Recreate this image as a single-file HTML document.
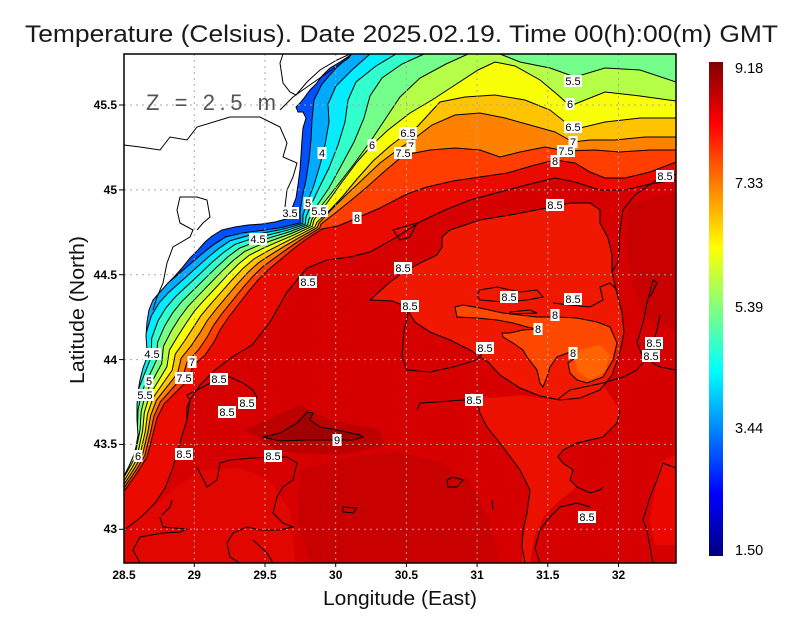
<!DOCTYPE html>
<html><head><meta charset="utf-8">
<style>
html,body{margin:0;padding:0;background:#fff;}
svg{display:block;}
text{font-family:"Liberation Sans",Arial,sans-serif;}
.lb rect{fill:#fff;}
.lb text{font-size:11px;fill:#000;text-anchor:middle;}
.tk{font-size:12px;font-weight:bold;fill:#000;}
</style></head>
<body>
<svg id="s" width="800" height="618" viewBox="0 0 800 618" xmlns="http://www.w3.org/2000/svg">
<defs>
<clipPath id="pc"><rect x="124" y="54" width="552" height="509"/></clipPath>
<linearGradient id="jet" x1="0" y1="0" x2="0" y2="1">
<stop offset="0" stop-color="#800000"/>
<stop offset="0.125" stop-color="#ff0000"/>
<stop offset="0.375" stop-color="#ffff00"/>
<stop offset="0.625" stop-color="#00ffff"/>
<stop offset="0.875" stop-color="#0000ff"/>
<stop offset="1" stop-color="#000080"/>
</linearGradient>
</defs>
<rect width="800" height="618" fill="#fff"/>

<text x="25" y="42" font-size="24" fill="#1a1a1a" textLength="753" lengthAdjust="spacingAndGlyphs">Temperature (Celsius). Date 2025.02.19. Time 00(h):00(m) GMT</text>

<g clip-path="url(#pc)">
<rect x="124" y="54" width="552" height="509" fill="#0050ff"/>
<g id="bandfill"></g>

<!-- red field details -->
<polygon points="100,535 124,530 140,518 155,503 165,488 172,470 178,450 183,432 187,420 190,400 200,385 215,370 232,357 252,345 270,322 287,292 307,268 327,260 350,257 370,252 395,238 420,222 445,210 470,200 500,192 530,184 555,178 575,182 600,190 625,190 650,184 676,180 710,180 710,610 100,610" fill="#d60000" stroke="#000" stroke-width="1"/>
<polygon points="124,532 150,510 175,488 200,470 240,468 270,480 290,510 295,563 124,563" fill="#e20600"/>
<polygon points="300,470 350,458 400,452 440,462 470,480 490,520 500,563 310,563 298,520" fill="#c80000"/>
<polygon points="628,205 676,192 676,330 645,318 632,285 625,245" fill="#c80000"/>
<polygon points="660,462 676,455 676,545 655,545 650,520 655,490" fill="#ea0800"/>
<polygon points="245,430 300,405 330,420 380,430 385,445 340,455 280,452" fill="#bc0000"/>
<polygon points="263,437 280,433 297,423 307,412 313,413 310,420 320,427 337,430 360,435 363,437 353,440 327,440 307,440 280,441" fill="#a00000" stroke="#000" stroke-width="1"/>
<polygon points="470,392 490,398 520,395 557,400 570,392 603,385 620,410 617,423 603,437 577,443 563,450 558,457 563,463 573,470 570,480 577,487 560,500 545,515 535,535 530,563 522,563 522,547 527,513 530,490 520,470 503,447 487,427 480,413" fill="#ec1000"/>
<polygon points="370,300 390,282 403,273 420,263 437,255 442,247 442,237 450,230 480,220 510,215 547,208 570,203 590,203 600,210 600,223 608,238 612,255 612,272 616,290 622,312 624,332 620,352 612,375 600,390 580,398 560,400 540,396 520,388 500,375 488,362 470,350 450,340 430,332 415,322 405,306 392,301" fill="#f01800" stroke="#000" stroke-width="1"/>
<polygon points="455,307 463,305 480,308 503,313 537,317 557,317 577,318 597,322 610,327 617,343 613,360 603,377 587,383 577,380 570,373 568,363 577,357 570,352 557,357 550,367 547,377 543,387 540,383 537,370 527,357 523,350 513,343 503,337 502,333 510,333 523,330 537,329 527,327 513,323 497,320 477,318 457,317" fill="#ff4800" stroke="#000" stroke-width="1"/>
<polygon points="580,350 600,345 610,355 605,372 590,380 578,372 575,360" fill="#ff6400"/>

<g fill="none" stroke="#000" stroke-width="1">
<polyline points="676,174 655,181 635,195 623,210 620,230 619,250 618,262 612,272"/>
<polyline points="405,306 408,315 404,330 402,357 407,370 430,372 453,367 477,360 485,350"/>
<polyline points="417,410 420,403 437,402 463,400 477,402 480,413 487,427 503,447 520,470 530,490 527,513 523,530 522,547 525,563"/>
<polyline points="557,400 570,390 603,383 623,377 637,370 647,357 653,343 657,330 660,315"/>
<polyline points="620,410 617,423 603,437 577,443 563,450 558,457 563,463 573,470 570,480 577,487 590,493 600,490 603,487"/>
<polyline points="590,507 577,503 560,507 550,517 540,530 535,548 540,563"/>
<polyline points="676,468 663,463 657,480 650,497 643,520 647,530 650,547 653,563"/>
<polygon points="447,480 453,477 463,480 457,487 448,487"/>
<polygon points="477,295 480,290 497,287 520,292 537,290 543,297 527,300 503,302 480,300"/>
<polygon points="510,312 530,310 537,313 510,314"/>
<polyline points="553,303 570,305 590,307 603,300 600,287 610,283 617,290"/>
<polyline points="650,297 657,283 653,280 647,303 643,323 637,343 643,357 660,367 676,370"/>
<polyline points="187,420 187,407 190,400 187,395 203,387 220,378 230,377 243,383 253,390 257,397 252,402"/>
<polyline points="197,467 207,487 217,480 220,463 230,460 253,458 273,457 287,457 297,463 293,480 283,487 277,497 273,513 283,523 293,527 280,530 260,530 247,527 233,533 227,543 230,557 240,563"/>
<polyline points="160,517 163,527 187,529 180,532 163,533 140,537 133,550 140,563"/>
<polyline points="172,500 170,507 162,515"/>
<polyline points="253,540 267,553 273,563"/>
<polygon points="343,507 357,508 353,513 343,512"/>
<polygon points="393,230 417,223 410,237 400,240"/>
<polyline points="492,500 493,510"/>
</g>

<g id="bandline" fill="none" stroke="#000" stroke-width="1"></g>

<!-- land -->
<polygon points="110,40 355,40 352,54 340,62 330,68 322,76 316,84 310,90 304,98 300,103 296,107 298,112 303,112 306,118 303,128 302,140 301,155 300,170 298,185 296,198 292,208 290,214 286,219 275,222 262,224 248,225 235,227 222,230 212,236 205,242 198,250 190,258 182,268 175,276 168,283 160,292 153,300 149,310 147,322 146,336 147,350 146,360 143,368 140,380 138,392 137,405 137,420 138,435 136,447 133,457 129,466 124,476 110,485" fill="#fff" stroke="#000" stroke-width="1"/>
<g fill="none" stroke="#000" stroke-width="1">
<polyline points="124,145 140,147 160,150 170,137 187,140 197,127 230,117 260,117 280,127 287,143 283,157 297,163 293,177 287,190 285,207 283,217"/>
<polyline points="283,54 280,63 283,83 290,92 296,95 307,82 320,70 337,60 350,54"/>
<polyline points="280,110 293,97 307,87 327,73 350,57"/>
<polyline points="197,197 180,197 177,210 180,223 193,230 190,237 173,247 167,263 163,283 157,297 153,310"/>
<polyline points="197,197 207,200 210,217 203,223 197,230"/>
</g>

<!-- grid -->
<g stroke="#a8a8a8" stroke-width="1" stroke-dasharray="2,4">
<line x1="194.3" y1="54" x2="194.3" y2="563"/>
<line x1="265" y1="54" x2="265" y2="563"/>
<line x1="335.7" y1="54" x2="335.7" y2="563"/>
<line x1="406.4" y1="54" x2="406.4" y2="563"/>
<line x1="477.1" y1="54" x2="477.1" y2="563"/>
<line x1="547.8" y1="54" x2="547.8" y2="563"/>
<line x1="618.5" y1="54" x2="618.5" y2="563"/>
<line x1="124" y1="105" x2="676" y2="105"/>
<line x1="124" y1="189.9" x2="676" y2="189.9"/>
<line x1="124" y1="274.7" x2="676" y2="274.7"/>
<line x1="124" y1="359.6" x2="676" y2="359.6"/>
<line x1="124" y1="444.4" x2="676" y2="444.4"/>
<line x1="124" y1="529.3" x2="676" y2="529.3"/>
</g>

<text x="146" y="110" font-size="22" fill="#555" textLength="130" lengthAdjust="spacing">Z = 2.5 m</text>

<!-- contour labels -->
<g class="lb">
<rect x="564" y="75" width="18" height="12"/><text x="573" y="85">5.5</text>
<rect x="565.5" y="98" width="9" height="12"/><text x="570" y="108">6</text>
<rect x="564" y="121" width="18" height="12"/><text x="573" y="131">6.5</text>
<rect x="568.5" y="136" width="9" height="12"/><text x="573" y="146">7</text>
<rect x="557" y="145" width="18" height="12"/><text x="566" y="155">7.5</text>
<rect x="550.5" y="155" width="9" height="12"/><text x="555" y="165">8</text>
<rect x="656" y="170" width="18" height="12"/><text x="665" y="180">8.5</text>
<rect x="399" y="127" width="18" height="12"/><text x="408" y="137">6.5</text>
<rect x="406.5" y="140" width="9" height="12"/><text x="411" y="150">7</text>
<rect x="394" y="147" width="18" height="12"/><text x="403" y="157">7.5</text>
<rect x="367.5" y="139" width="9" height="12"/><text x="372" y="149">6</text>
<rect x="317.5" y="147" width="9" height="12"/><text x="322" y="157">4</text>
<rect x="352.5" y="212" width="9" height="12"/><text x="357" y="222">8</text>
<rect x="546" y="199" width="18" height="12"/><text x="555" y="209">8.5</text>
<rect x="303.5" y="197" width="9" height="12"/><text x="308" y="207">5</text>
<rect x="281" y="207" width="18" height="12"/><text x="290" y="217">3.5</text>
<rect x="310" y="205" width="18" height="12"/><text x="319" y="215">5.5</text>
<rect x="249" y="233" width="18" height="12"/><text x="258" y="243">4.5</text>
<rect x="394" y="262" width="18" height="12"/><text x="403" y="272">8.5</text>
<rect x="299" y="276" width="18" height="12"/><text x="308" y="286">8.5</text>
<rect x="401" y="300" width="18" height="12"/><text x="410" y="310">8.5</text>
<rect x="500" y="291" width="18" height="12"/><text x="509" y="301">8.5</text>
<rect x="564" y="293" width="18" height="12"/><text x="573" y="303">8.5</text>
<rect x="550.5" y="309" width="9" height="12"/><text x="555" y="319">8</text>
<rect x="533.5" y="323" width="9" height="12"/><text x="538" y="333">8</text>
<rect x="568.5" y="347" width="9" height="12"/><text x="573" y="357">8</text>
<rect x="476" y="342" width="18" height="12"/><text x="485" y="352">8.5</text>
<rect x="645" y="337" width="18" height="12"/><text x="654" y="347">8.5</text>
<rect x="642" y="350" width="18" height="12"/><text x="651" y="360">8.5</text>
<rect x="143" y="348" width="18" height="12"/><text x="152" y="358">4.5</text>
<rect x="187.5" y="356" width="9" height="12"/><text x="192" y="366">7</text>
<rect x="144.5" y="375" width="9" height="12"/><text x="149" y="385">5</text>
<rect x="175" y="372" width="18" height="12"/><text x="184" y="382">7.5</text>
<rect x="210" y="373" width="18" height="12"/><text x="219" y="383">8.5</text>
<rect x="136" y="389" width="18" height="12"/><text x="145" y="399">5.5</text>
<rect x="238" y="397" width="18" height="12"/><text x="247" y="407">8.5</text>
<rect x="218" y="406" width="18" height="12"/><text x="227" y="416">8.5</text>
<rect x="465" y="394" width="18" height="12"/><text x="474" y="404">8.5</text>
<rect x="332.5" y="434" width="9" height="12"/><text x="337" y="444">9</text>
<rect x="133.5" y="450" width="9" height="12"/><text x="138" y="460">6</text>
<rect x="175" y="448" width="18" height="12"/><text x="184" y="458">8.5</text>
<rect x="264" y="450" width="18" height="12"/><text x="273" y="460">8.5</text>
<rect x="578" y="511" width="18" height="12"/><text x="587" y="521">8.5</text>
</g>
</g>

<!-- frame and ticks -->
<rect x="124" y="54" width="552" height="509" fill="none" stroke="#000" stroke-width="1.5"/>
<g stroke="#000" stroke-width="1">
<line x1="119" y1="105" x2="124" y2="105"/>
<line x1="119" y1="189.9" x2="124" y2="189.9"/>
<line x1="119" y1="274.7" x2="124" y2="274.7"/>
<line x1="119" y1="359.6" x2="124" y2="359.6"/>
<line x1="119" y1="444.4" x2="124" y2="444.4"/>
<line x1="119" y1="529.3" x2="124" y2="529.3"/>
<line x1="194.3" y1="563" x2="194.3" y2="567"/>
<line x1="265" y1="563" x2="265" y2="567"/>
<line x1="335.7" y1="563" x2="335.7" y2="567"/>
<line x1="406.4" y1="563" x2="406.4" y2="567"/>
<line x1="477.1" y1="563" x2="477.1" y2="567"/>
<line x1="547.8" y1="563" x2="547.8" y2="567"/>
<line x1="618.5" y1="563" x2="618.5" y2="567"/>
</g>
<g class="tk" text-anchor="end">
<text x="117" y="109">45.5</text>
<text x="117" y="194">45</text>
<text x="117" y="279">44.5</text>
<text x="117" y="364">44</text>
<text x="117" y="448">43.5</text>
<text x="117" y="533">43</text>
</g>
<g class="tk" text-anchor="middle">
<text x="124" y="579">28.5</text>
<text x="194.3" y="579">29</text>
<text x="265" y="579">29.5</text>
<text x="335.7" y="579">30</text>
<text x="406.4" y="579">30.5</text>
<text x="477.1" y="579">31</text>
<text x="547.8" y="579">31.5</text>
<text x="618.5" y="579">32</text>
</g>
<text x="323" y="605" font-size="20" fill="#111" textLength="154" lengthAdjust="spacingAndGlyphs">Longitude (East)</text>
<text transform="translate(84,384) rotate(-90)" font-size="20" fill="#111" textLength="148" lengthAdjust="spacingAndGlyphs">Latitude (North)</text>

<!-- colorbar -->
<rect x="709" y="62" width="14" height="494" fill="url(#jet)"/>
<g font-size="14.5" fill="#000">
<text x="735" y="73">9.18</text>
<text x="735" y="188">7.33</text>
<text x="735" y="312">5.39</text>
<text x="735" y="433">3.44</text>
<text x="735" y="555">1.50</text>
</g>
</svg>
<script>
(function(){
var NS="http://www.w3.org/2000/svg";
var I=[[298,222],[280,226],[260,228],[240,230],[222,234],[210,242],[198,252],[186,264],[174,276],[163,288],[155,300],[150,315],[147,335],[148,355],[143,372],[139,390],[138,410],[139,430],[136,450],[130,465],[124,478],[110,490]];
var O=[[322,229],[305,240],[292,250],[280,260],[268,270],[258,280],[248,292],[238,305],[228,318],[220,330],[214,342],[205,355],[193,366],[188,380],[176,392],[164,404],[157,418],[153,434],[147,457],[137,473],[125,490],[110,500]];
var Tc=[3.0,3.0,3.0,3.05,3.1,3.15,3.2,3.3,3.4,3.55,3.7,3.9,4.1,4.2,4.3,4.6,5.0,5.3,5.5,5.8,6.1,6.4];
var N=[
[[352,30],[352,54],[336,68],[322,84],[314,100],[312,120],[311,140],[309,160],[306,180],[302,198],[300,212]],
[[370,30],[370,54],[352,70],[336,86],[328,104],[329,122],[325,145],[320,165],[314,185],[307,203],[303,215]],
[[396,30],[396,54],[376,66],[356,82],[348,100],[345,122],[338,145],[329,168],[319,188],[311,205],[306,217]],
[[424,30],[424,54],[402,64],[382,78],[370,96],[364,118],[354,142],[341,166],[329,188],[316,207],[309,219]],
[[700,82],[676,82],[640,70],[605,68],[575,77],[550,68],[520,62],[500,54],[500,30],[468,30],[468,54],[446,64],[420,78],[400,97],[386,118],[370,142],[354,164],[337,186],[322,205],[312,219]],
[[700,101],[676,101],[640,96],[605,92],[585,100],[570,106],[558,95],[540,80],[515,66],[495,62],[478,70],[455,85],[432,100],[410,113],[388,130],[372,145],[357,162],[342,182],[327,203],[314,220]],
[[700,118],[676,118],[640,118],[605,122],[580,128],[565,122],[550,110],[525,100],[495,95],[465,97],[440,102],[428,115],[418,126],[407,133],[390,146],[373,161],[357,179],[343,196],[330,210],[317,222]],
[[700,137],[676,137],[645,137],[615,140],[590,140],[573,142],[555,132],[530,125],[505,118],[480,113],[455,115],[432,125],[415,138],[400,148],[380,163],[362,180],[345,196],[331,210],[319,223]],
[[700,150],[676,150],[650,150],[620,152],[595,150],[566,151],[545,147],[520,152],[500,157],[480,150],[455,148],[430,150],[404,155],[386,170],[367,187],[349,202],[334,214],[321,224]],
[[700,162],[676,162],[650,172],[625,178],[605,178],[590,172],[575,163],[555,160],[535,165],[507,173],[480,177],[453,181],[427,187],[407,194],[380,208],[357,218],[338,226]]
];
var levels=[3.5,4,4.5,5,5.5,6,6.5,7,7.5,8];
var cols=["#00abff","#00eeff","#31ffce","#74ff8b","#b6ff49","#f8ff07","#ffc300","#ff8100","#ff3e00","#ea0a00"];
var fg=document.getElementById("bandfill"),lg=document.getElementById("bandline");
function s(p){return p.map(function(q){return q[0].toFixed(1)+","+q[1].toFixed(1);}).join(" ");}
for(var k=0;k<levels.length;k++){
 var L=levels[k],pts=N[k].slice();
 for(var i=0;i<I.length;i++){
  var f=(L-Tc[i])/(8-Tc[i]);
  pts.push([I[i][0]+f*(O[i][0]-I[i][0]),I[i][1]+f*(O[i][1]-I[i][1])]);
 }
 var last=pts[pts.length-1];
 var poly=pts.concat([[90,last[1]],[90,610],[710,610],[710,20]]);
 var pg=document.createElementNS(NS,"polygon");
 pg.setAttribute("points",s(poly));pg.setAttribute("fill",cols[k]);
 fg.appendChild(pg);
 var pl=document.createElementNS(NS,"polyline");
 pl.setAttribute("points",s(pts));
 lg.appendChild(pl);
}
})();
</script>
</body></html>
